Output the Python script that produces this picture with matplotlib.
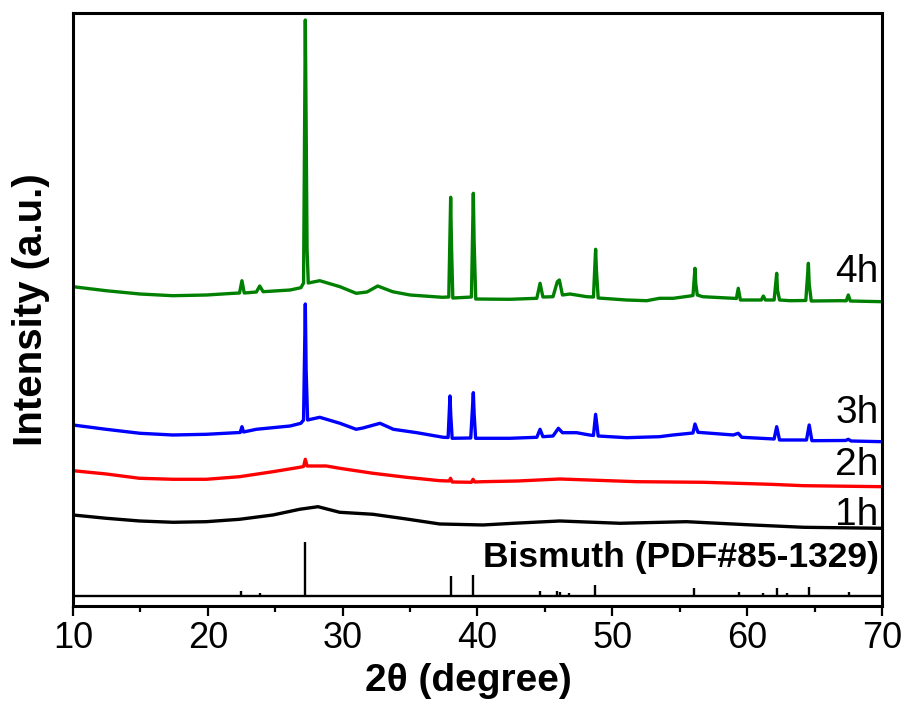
import numpy as np
import matplotlib
matplotlib.use("Agg")
import matplotlib.pyplot as plt
from matplotlib.ticker import MultipleLocator

plt.rcParams["font.family"] = ["Liberation Sans", "DejaVu Sans"]

# -------------------- Data --------------------
# 4h (green)
tt_4h = [10.0, 12.45, 14.97, 17.4, 19.9, 21.9, 22.35, 22.53, 22.7, 23.6, 23.85, 24.1,
         26.1, 26.9, 27.1, 27.23, 27.29, 27.36, 27.45, 28.3, 29.8, 31.0, 31.8, 32.6,
         33.7, 35.0, 37.4, 37.87, 38.01, 38.07, 38.17, 39.2, 39.55, 39.69, 39.75, 39.87,
         42.4, 44.4, 44.64, 44.85, 45.6, 45.92, 46.07, 46.3, 46.86, 48.1, 48.6, 48.76,
         48.82, 48.95, 51.06, 52.55, 53.5, 54.52, 55.76, 55.98, 56.13, 56.19, 56.3, 56.7,
         58.97, 59.2, 59.34, 59.5, 60.7, 61.05, 61.2, 61.35, 62.0, 62.19, 62.25, 62.4,
         63.18, 64.35, 64.54, 64.6, 64.75, 66.9, 67.35, 67.5, 67.65, 70.0]
I_4h = [319.3, 315.3, 312, 310.3, 311, 312.7, 313, 325.3, 313, 314, 320, 314.3,
        316, 318.3, 323, 586, 483, 356, 323, 325.3, 319.3, 312.7, 314, 320,
        314.3, 311, 308.7, 309, 408.7, 361, 308, 308.7, 309, 412.7, 364, 307,
        306.7, 307.7, 322.7, 309, 309.3, 324.3, 326, 311, 312, 309.3, 309, 356.7,
        336, 308, 306, 305.3, 307.7, 307.7, 310, 310.5, 337.7, 322, 311, 309.3,
        307.7, 307.5, 317.7, 306, 306, 306, 310, 306, 306, 332.7, 316, 306,
        305.3, 305.5, 342.7, 322, 305, 305.3, 305.2, 311, 305, 304.3]

# 3h (blue)
tt_3h = [10.0, 12.45, 14.97, 17.4, 19.9, 22.1, 22.4, 22.53, 22.65, 23.6, 26.1, 26.9,
         27.1, 27.23, 27.29, 27.4, 28.3, 29.8, 31.0, 31.5, 32.77, 33.76, 35.5, 37.46,
         37.82, 37.96, 38.02, 38.12, 39.5, 39.69, 39.75, 39.86, 42.4, 44.4, 44.64, 44.85,
         45.6, 46.0, 46.3, 47.35, 48.3, 48.6, 48.76, 48.95, 51.06, 53.5, 54.5, 55.76,
         55.98, 56.13, 56.35, 58.97, 59.34, 59.6, 62.0, 62.19, 62.4, 64.4, 64.6, 64.8,
         67.3, 67.5, 67.7, 70.0]
I_3h = [181, 176.7, 172.7, 171, 171.7, 173.3, 173.5, 179.3, 174, 176.7, 180, 182.7,
        186, 302, 236, 186, 188.7, 182.7, 176.7, 178, 182.7, 176.7, 173.3, 168.7,
        168.5, 210, 190, 167.7, 168, 213.3, 192, 167.7, 167.7, 168.7, 176.7, 169.3,
        170, 177.7, 173.3, 173.3, 171, 170.5, 191.7, 170, 168.3, 169.3, 171, 172.7,
        173, 182, 173.7, 171, 172.7, 168.7, 167, 179.3, 166, 166, 181, 165.3,
        165.5, 166.7, 165, 164.3]

# 2h (red)
tt_2h = [10.0, 12.47, 14.94, 17.42, 19.89, 22.36, 24.83, 26.81, 27.1, 27.23, 27.36,
         28.79, 29.78, 32.25, 34.72, 37.2, 37.9, 38.0, 38.12, 39.55, 39.67, 39.8, 40.4,
         43.0, 46.1, 51.8, 56.75, 61.7, 64.17, 70.0]
I_2h = [135.3, 132, 127.7, 126.7, 126.7, 129.3, 134.3, 138.7, 139.5, 146.7, 140,
        140, 137.7, 132.7, 128.7, 125.3, 125, 127.7, 124, 123.7, 126.7, 124, 124.3,
        125, 127, 124.3, 123.7, 121.7, 120.3, 119.3]

# 1h (black)
tt_1h = [10.0, 12.47, 14.94, 17.42, 19.89, 22.36, 24.83, 26.81, 28.17, 29.78, 32.25,
         34.72, 37.2, 40.4, 42.66, 46.1, 50.57, 55.5, 60.4, 64.17, 70.0]
I_1h = [91, 87.7, 85, 83.7, 84.3, 86.7, 91, 96.7, 99.3, 93.7, 91.7,
        87, 82, 81, 82.7, 85, 82.7, 84.3, 81, 78.7, 77.7]

# Bismuth reference pattern (PDF#85-1329)
ref_tt = [22.49, 23.85, 27.23, 38.01, 39.67, 44.64, 45.87, 46.1, 46.8, 48.74,
          56.06, 59.42, 61.2, 62.24, 62.98, 64.61, 67.57]
ref_h = [5, 3, 54, 19.7, 20.4, 5, 4.4, 3.4, 2.4, 10.7,
         7.4, 4, 3, 8, 2.4, 9, 4]
REF_BASE = 10.3

series = [
    (tt_1h, I_1h, "black", "1h", 91),
    (tt_2h, I_2h, "#ff0000", "2h", 141),
    (tt_3h, I_3h, "#0000ff", "3h", 193),
    (tt_4h, I_4h, "#008000", "4h", 334),
]

# -------------------- Plot --------------------
fig = plt.figure(figsize=(9.09, 7.08), dpi=100)
ax = fig.add_axes([0.0803, 0.1441, 0.8900, 0.8375])

for tt, I, c, lab, ly in series:
    ax.plot(tt, I, color=c, lw=2.4)
    ax.text(69.75, ly, lab, ha="right", va="center", fontsize=28)

ax.axhline(REF_BASE, color="black", lw=1.7)
ax.vlines(ref_tt, REF_BASE, REF_BASE + np.array(ref_h), color="black", lw=1.7)
ax.text(69.75, 48, "Bismuth (PDF#85-1329)", ha="right", va="center",
        fontsize=25.5, fontweight="bold")

ax.set_xlim(10, 70)
ax.set_ylim(0, 593)
ax.xaxis.set_major_locator(MultipleLocator(10))
ax.xaxis.set_minor_locator(MultipleLocator(5))
ax.tick_params(axis="x", which="major", direction="out", length=7.5, width=1.6,
               labelsize=26, pad=3)
ax.tick_params(axis="x", which="minor", direction="out", length=4, width=1.6)
ax.set_yticks([])
for s in ax.spines.values():
    s.set_linewidth(2.2)

ax.set_xlabel("2θ (degree)", fontsize=28, fontweight="bold")
ax.xaxis.set_label_coords(0.489, -0.096)
ax.set_ylabel("Intensity (a.u.)", fontsize=29, fontweight="bold")
ax.yaxis.set_label_coords(-0.028, 0.5)

fig.savefig("out.png", dpi=100)
